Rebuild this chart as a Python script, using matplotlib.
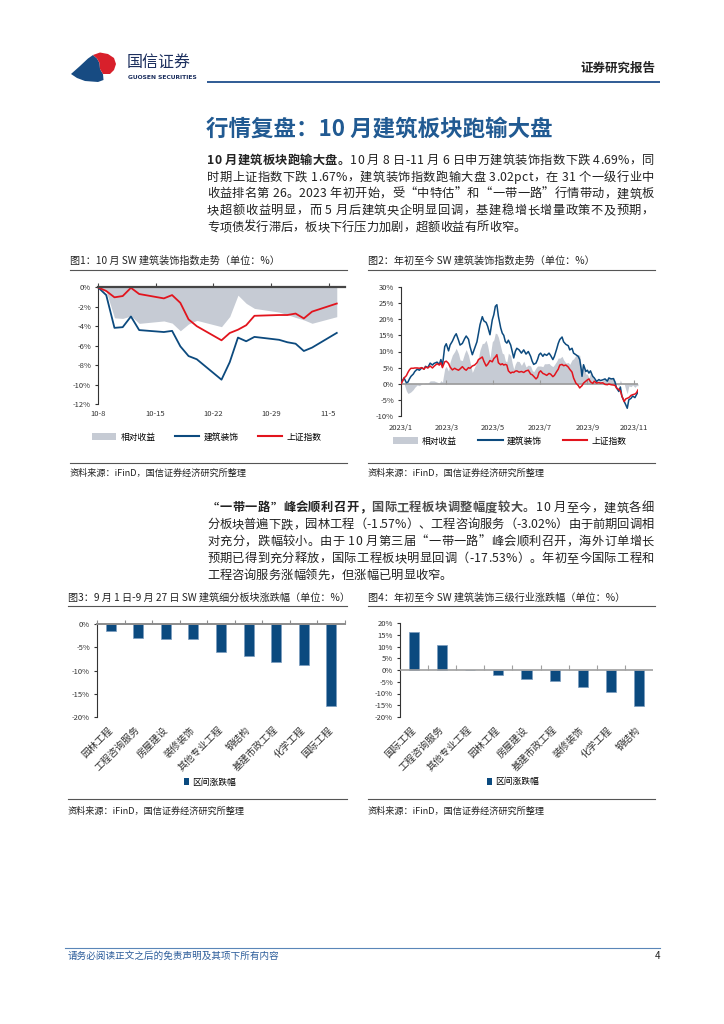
import matplotlib
matplotlib.use('Agg')
import matplotlib.pyplot as plt
import numpy as np
from matplotlib.patches import Polygon, Patch
from matplotlib.lines import Line2D
from matplotlib.font_manager import FontProperties

FAM = ['Noto Sans CJK SC', 'DejaVu Sans']
plt.rcParams['font.family'] = FAM
plt.rcParams['axes.unicode_minus'] = False

# ---------------- data ----------------
# Chart 1: days since 10-8
d1 = [0, 1, 2, 3, 4, 5, 8, 9, 10, 11, 12, 15, 16, 17, 18, 19, 22, 23, 24, 25, 26, 29]
sw1 = [0, -0.80, -4.17, -4.10, -3.00, -4.40, -4.60, -4.48, -6.07, -7.07, -7.40,
       -9.50, -7.70, -5.17, -5.55, -5.10, -5.40, -5.65, -5.80, -6.55, -6.20, -4.69]
sh1 = [0, -0.38, -1.03, -0.90, -0.05, -0.69, -1.14, -0.80, -1.60, -3.30, -4.00,
       -5.45, -4.70, -4.36, -3.90, -2.93, -2.85, -2.85, -2.70, -3.20, -2.50, -1.67]
rel1 = [0, -0.42, -3.14, -3.20, -2.95, -3.71, -3.46, -3.68, -4.47, -3.77, -3.40,
        -4.05, -3.00, -0.81, -1.65, -2.17, -2.55, -2.80, -3.10, -3.35, -3.70, -3.02]
t1_pos = [0, 7, 14, 21, 28]
t1_lab = ['10-8', '10-15', '10-22', '10-29', '11-5']

# Chart 2: days since 2023-01-01
d2 = [0, 2, 4, 7, 9, 11, 13, 16, 18, 21,
      24, 27, 30, 32, 35, 38, 41, 43, 47, 50,
      52, 54, 57, 59, 62, 64, 67, 70, 72, 75,
      77, 80, 83, 85, 88, 90, 93, 96, 99, 101,
      103, 106, 108, 111, 113, 116, 119, 121, 123, 125,
      127, 130, 132, 134, 136, 138, 140, 143, 145, 147,
      149, 151, 154, 157, 160, 163, 166, 169, 171, 173,
      176, 178, 180, 182, 185, 187, 190, 193, 195, 198,
      200, 203, 205, 207, 210, 212, 215, 218, 220, 223,
      225, 228, 231, 233, 235, 236, 238, 241, 243, 245,
      247, 250, 252, 255, 258, 260, 263, 266, 269, 271,
      274, 277, 279, 281, 284, 286, 288, 291, 293, 295,
      297, 300, 302, 305, 307, 309]
sw2 = [0.0, 1.0, 1.8, 0.3, 0.5, 1.5, 2.3, 3.0, 3.8, 4.5,
       4.2, 4.9, 4.6, 5.4, 5.0, 6.4, 5.8, 6.3, 6.7, 6.0,
       7.5, 5.5, 11.5, 12.4, 10.2, 12.0, 13.2, 14.8, 15.5, 13.5,
       12.0, 12.5, 14.0, 14.8, 13.8, 11.5, 9.0, 11.0, 13.0, 15.6,
       18.3, 20.8, 19.5, 19.0, 17.8, 15.2, 19.8, 21.4, 24.0, 24.5,
       20.9, 17.3, 15.7, 15.0, 13.1, 12.6, 13.5, 12.0, 10.0, 8.0,
       10.0, 11.0, 10.5, 9.5, 10.5, 9.2, 10.0, 8.5, 7.0, 6.0,
       6.4, 7.5, 9.0, 9.5, 8.5, 9.2, 8.8, 9.5, 8.8, 7.5,
       8.5, 10.8, 12.5, 13.7, 14.5, 13.0, 12.2, 11.8, 10.5, 11.0,
       9.5, 9.0, 8.5, 7.5, 4.4, 2.3, 5.9, 3.8, 4.2, 3.3,
       4.0, 2.3, 1.8, 0.7, 1.3, 1.0, 1.2, 1.5, 0.8, 1.8,
       1.5, 1.6, 0.5, -1.3, -2.4, -1.0, -3.9, -5.5, -6.5, -7.6,
       -5.0, -4.5, -3.8, -4.3, -3.4, -2.5]
sh2 = [0.0, 0.8, 1.8, 2.5, 3.5, 4.3, 4.8, 4.8, 4.9, 4.9,
       4.8, 5.0, 4.5, 5.2, 4.9, 5.5, 4.9, 5.4, 6.2, 5.8,
       6.5, 5.0, 6.8, 7.0, 6.3, 5.2, 4.3, 4.8, 4.5, 4.2,
       4.6, 5.3, 4.5, 4.2, 5.0, 4.8, 5.5, 5.8, 6.5, 7.5,
       7.8, 8.3, 7.0, 5.5, 6.0, 7.2, 6.8, 7.8, 8.3, 9.0,
       6.5, 5.9, 6.2, 5.8, 6.0, 5.8, 4.0, 3.3, 3.6, 3.5,
       3.9, 4.0, 3.6, 3.8, 3.5, 4.0, 4.2, 3.0, 2.8, 2.3,
       1.5, 2.0, 3.5, 4.0, 3.2, 3.0, 2.6, 3.2, 3.0, 2.2,
       2.6, 3.8, 4.5, 5.8, 6.0, 5.6, 5.8, 5.2, 4.5, 3.6,
       1.8, 0.2, -0.5, -1.3, -0.8, -0.6, 0.2, 0.8, 1.2, 1.5,
       0.6, 0.1, 0.8, 0.2, 0.4, 0.2, 0.3, -0.2, -0.3, -0.1,
       -0.3, -0.4, -0.5, -1.3, -1.8, -2.2, -3.8, -5.5, -4.7, -4.5,
       -4.3, -3.6, -3.4, -3.2, -2.8, -1.9]
rel2 = [0.0, 0.2, 0.0, -2.2, -3.0, -2.8, -2.5, -1.8, -1.1, -0.4,
        -0.6, -0.1, 0.1, 0.2, 0.1, 0.9, 0.9, 0.9, 0.5, 0.2,
        1.0, 0.5, 4.7, 5.4, 3.9, 6.8, 8.9, 10.0, 11.0, 9.3,
        7.4, 7.2, 9.5, 10.6, 8.8, 6.7, 3.5, 5.2, 6.5, 8.1,
        10.5, 12.5, 12.5, 13.5, 11.8, 8.0, 13.0, 13.6, 15.7, 15.5,
        14.4, 11.4, 9.5, 9.2, 7.1, 6.8, 9.5, 8.7, 6.4, 4.5,
        6.1, 7.0, 6.9, 5.7, 7.0, 5.2, 5.8, 5.5, 4.2, 3.7,
        4.9, 5.5, 5.5, 5.5, 5.3, 6.2, 6.2, 6.3, 5.8, 5.3,
        5.9, 7.0, 8.0, 7.9, 8.5, 7.4, 6.4, 6.6, 6.0, 7.4,
        7.7, 8.8, 9.0, 8.8, 5.2, 2.9, 5.7, 3.0, 3.0, 1.8,
        3.4, 2.2, 1.0, 0.5, 0.9, 0.8, 0.9, 1.7, 1.1, 1.9,
        1.8, 2.0, 1.0, 0.0, -0.6, 1.2, -0.1, 0.0, -1.8, -3.1,
        -0.7, -0.9, -0.4, -1.1, -0.6, -0.6]
t2_pos = [0, 59, 120, 181, 243, 304]
t2_lab = ['2023/1', '2023/3', '2023/5', '2023/7', '2023/9', '2023/11']

# Chart 3
cat3 = ['园林工程', '工程咨询服务', '房屋建设', '装修装饰', '其他专业工程',
        '钢结构', '基建市政工程', '化学工程', '国际工程']
val3 = [-1.57, -3.02, -3.3, -3.3, -6.1, -6.8, -8.2, -8.8, -17.53]

# Chart 4
cat4 = ['国际工程', '工程咨询服务', '其他专业工程', '园林工程', '房屋建设',
        '基建市政工程', '装修装饰', '化学工程', '钢结构']
val4 = [16.2, 10.8, 0.0, -2.3, -3.7, -4.5, -7.4, -9.5, -15.2]

# ---------------- style ----------------
BLUE = '#0c4a7e'
RED = '#e2141d'
GREY = '#c6cbd4'
BAR = '#0b4a7f'
BAREDGE = '#7b9cbf'
TXT = '#222222'
TICK = '#333333'

W, H = 724, 1024
fig = plt.figure(figsize=(W / 100, H / 100), dpi=100)
bg = fig.add_axes([0, 0, 1, 1], zorder=0)
bg.set_xlim(0, W)
bg.set_ylim(H, 0)
bg.axis('off')


def rect(l, t, r, b):
    return [l / W, 1 - b / H, (r - l) / W, (b - t) / H]


renderer = fig.canvas.get_renderer()


def tw(s, fp):
    w, h, d = renderer.get_text_width_height_descent(s, fp, ismath=False)
    return w


def char_w(c, fp):
    if c == ' ':
        return tw('a a', fp) - tw('aa', fp)
    return tw(c, fp)


BODY = 8.8
fp_reg = FontProperties(family=FAM, size=BODY)
fp_bold = FontProperties(family=FAM, size=BODY, weight='bold')


def draw_line(yc, runs, x0=207, x1=654, justify=True):
    chars = []
    for txt, fp, col in runs:
        for ch in txt:
            chars.append((ch, fp, col))
    widths = [char_w(c, fp) for c, fp, _ in chars]
    total = sum(widths)
    extra = (x1 - x0 - total) / (len(chars) - 1) if justify and len(chars) > 1 else 0
    x = x0
    yb = yc + 4.6
    for (c, fp, col), w in zip(chars, widths):
        if c != ' ':
            bg.text(x, yb, c, fontproperties=fp, color=col, ha='left', va='baseline')
        x += w + extra


# ---------------- header ----------------
blue_poly = [(71.0, 74.0), (80.0, 66.0), (88.0, 58.5), (93.0, 55.0), (97.0, 58.5),
             (99.5, 63.0), (100.0, 69.0), (103.0, 74.0), (103.5, 80.0), (98.0, 82.0),
             (85.0, 81.0), (77.0, 78.0)]
red_poly = [(93.0, 55.0), (100.0, 52.5), (108.0, 54.0), (114.0, 58.0), (116.0, 64.0),
            (114.0, 70.0), (110.0, 74.0), (103.0, 74.0), (100.0, 69.0), (99.5, 63.0),
            (97.0, 58.5)]
bg.add_patch(Polygon(blue_poly, closed=True, facecolor='#174b82', edgecolor='none'))
bg.add_patch(Polygon(red_poly, closed=True, facecolor='#d8202b', edgecolor='none'))
bg.text(127, 63, '国信证券', fontsize=11.5, color='#1c2f5e', ha='left', va='center')
bg.text(127.5, 77.5, 'GUOSEN SECURITIES', fontsize=4.3, color='#1c2f5e', ha='left',
        va='center', fontweight='bold', family=['DejaVu Sans'])
bg.text(655, 68, '证券研究报告', fontsize=9, color=TXT, ha='right', va='center', fontweight='bold')
bg.plot([207, 660], [82, 82], color='#1f4e8c', lw=1.3, solid_capstyle='butt')

# title
bg.text(206, 129, '行情复盘：10 月建筑板块跑输大盘', fontsize=16.2, color='#215a92',
        fontweight='bold', ha='left', va='center')

# paragraph 1
p1 = [
    [('10 月建筑板块跑输大盘。', fp_bold, TXT), ('10 月 8 日-11 月 6 日申万建筑装饰指数下跌 4.69%，同', fp_reg, TXT)],
    [('时期上证指数下跌 1.67%，建筑装饰指数跑输大盘 3.02pct，在 31 个一级行业中', fp_reg, TXT)],
    [('收益排名第 26。2023 年初开始，受“中特估”和“一带一路”行情带动，建筑板', fp_reg, TXT)],
    [('块超额收益明显，而 5 月后建筑央企明显回调，基建稳增长增量政策不及预期，', fp_reg, TXT)],
    [('专项债发行滞后，板块下行压力加剧，超额收益有所收窄。', fp_reg, TXT)],
]
for i, runs in enumerate(p1):
    draw_line(159.2 + i * 16.75, runs, justify=(i < len(p1) - 1))

# paragraph 2
p2 = [
    [('“一带一路”峰会顺利召开，', fp_bold, TXT), ('国际工程板块调整幅度较大', fp_bold, '#4d4d4d'),
     ('。10 月至今，建筑各细', fp_reg, TXT)],
    [('分板块普遍下跌，园林工程（-1.57%）、工程咨询服务（-3.02%）由于前期回调相', fp_reg, TXT)],
    [('对充分，跌幅较小。由于 10 月第三届“一带一路”峰会顺利召开，海外订单增长', fp_reg, TXT)],
    [('预期已得到充分释放，国际工程板块明显回调（-17.53%）。年初至今国际工程和', fp_reg, TXT)],
    [('工程咨询服务涨幅领先，但涨幅已明显收窄。', fp_reg, TXT)],
]
for i, runs in enumerate(p2):
    draw_line(506.7 + i * 16.9, runs, justify=(i < len(p2) - 1))

# chart titles, rules, sources
CT = 7.3
SRC = 6.6
bg.text(70, 261, '图1：10 月 SW 建筑装饰指数走势（单位：%）', fontsize=CT, color=TXT, va='center')
bg.text(368, 261, '图2：年初至今 SW 建筑装饰指数走势（单位：%）', fontsize=CT, color=TXT, va='center')
bg.text(68, 598, '图3：9 月 1 日-9 月 27 日 SW 建筑细分板块涨跌幅（单位：%）', fontsize=CT, color=TXT, va='center')
bg.text(368, 598, '图4：年初至今 SW 建筑装饰三级行业涨跌幅（单位：%）', fontsize=CT, color=TXT, va='center')
for (xa, xb) in [(70, 347), (368, 655)]:
    bg.plot([xa, xb], [270, 270], color='#555555', lw=0.8)
    bg.plot([xa, xb], [463, 463], color='#555555', lw=0.8)
    bg.text(xa, 473, '资料来源：iFinD，国信证券经济研究所整理', fontsize=SRC, color=TXT, va='center')
for (xa, xb) in [(68, 347), (368, 655)]:
    bg.plot([xa, xb], [606, 606], color='#555555', lw=0.8)
    bg.plot([xa, xb], [799, 799], color='#555555', lw=0.8)
    bg.text(xa, 811, '资料来源：iFinD，国信证券经济研究所整理', fontsize=SRC, color=TXT, va='center')

# footer
bg.plot([65, 660], [948, 948], color='#5a86b8', lw=0.8)
bg.text(68, 956, '请务必阅读正文之后的免责声明及其项下所有内容', fontsize=6.9, color='#2b5c9a',
        va='center', style='italic')
bg.text(660, 956, '4', fontsize=7, color=TXT, ha='right', va='center')

TL = 5.5
LEG = 6.3
CATF = 7.0


def pct(vals):
    return [f'{v}%' for v in vals]


# ---------------- chart 1 ----------------
ax1 = fig.add_axes(rect(98, 287.3, 345, 404), zorder=1)
ax1.fill_between(d1, rel1, 0, color=GREY, lw=0, zorder=1)
ax1.plot(d1, sw1, color=BLUE, lw=1.3, zorder=3, clip_on=False)
ax1.plot(d1, sh1, color=RED, lw=1.3, zorder=3, clip_on=False)
ax1.set_xlim(0, 30)
ax1.set_ylim(-12, 0)
yt1 = list(range(-12, 1, 2))
ax1.set_yticks(yt1)
ax1.set_yticklabels(pct(yt1))
ax1.set_xticks(t1_pos)
ax1.set_xticklabels(t1_lab)
for s in ['right', 'bottom']:
    ax1.spines[s].set_visible(False)
ax1.spines['top'].set_color('#454545')
ax1.spines['top'].set_linewidth(1.6)
ax1.spines['top'].set_zorder(4)
ax1.spines['left'].set_color(TICK)
ax1.spines['left'].set_linewidth(0.8)
ax1.tick_params(axis='x', top=True, bottom=False, direction='out', length=3, width=0.8,
                color='#454545', labelsize=TL, labelcolor=TICK, pad=1)
ax1.tick_params(axis='y', direction='out', length=2.5, width=0.8, color=TICK,
                labelsize=TL, labelcolor=TICK, pad=2.5)
h1 = [Patch(facecolor=GREY, edgecolor='none'),
      Line2D([], [], color=BLUE, lw=1.5), Line2D([], [], color=RED, lw=1.5)]
ax1.legend(h1, ['相对收益', '建筑装饰', '上证指数'], loc='center', bbox_to_anchor=(0.44, -0.283),
           ncol=3, frameon=False, fontsize=LEG, handlelength=2.8, handleheight=0.9,
           handletextpad=0.5, columnspacing=2.2, borderpad=0)

# ---------------- chart 2 ----------------
ax2 = fig.add_axes(rect(401, 287, 638, 416), zorder=1)
ax2.fill_between(d2, rel2, 0, color=GREY, lw=0, zorder=1)
ax2.axhline(0, color='#9a9a9a', lw=1.2, zorder=2)
ax2.vlines(t2_pos[1:], 0, 1.3, color='#9a9a9a', lw=0.8, zorder=2)
ax2.plot(d2, sw2, color=BLUE, lw=1.1, zorder=3)
ax2.plot(d2, sh2, color=RED, lw=1.1, zorder=3)
ax2.set_xlim(0, 309)
ax2.set_ylim(-10, 30)
yt2 = list(range(-10, 31, 5))
ax2.set_yticks(yt2)
ax2.set_yticklabels(pct(yt2))
ax2.set_xticks(t2_pos)
ax2.set_xticklabels(t2_lab)
for s in ['right', 'bottom', 'top']:
    ax2.spines[s].set_visible(False)
ax2.spines['left'].set_color(TICK)
ax2.spines['left'].set_linewidth(0.8)
ax2.tick_params(axis='x', length=0, labelsize=TL, labelcolor=TICK, pad=5.5)
ax2.tick_params(axis='y', direction='out', length=2.5, width=0.8, color=TICK,
                labelsize=TL, labelcolor=TICK, pad=2.5)
ax2.legend(h1, ['相对收益', '建筑装饰', '上证指数'], loc='center', bbox_to_anchor=(0.46, -0.194),
           ncol=3, frameon=False, fontsize=LEG, handlelength=2.8, handleheight=0.9,
           handletextpad=0.5, columnspacing=2.4, borderpad=0)

# ---------------- chart 3 ----------------
ax3 = fig.add_axes(rect(97, 624, 345, 717), zorder=1)
x3 = np.arange(len(cat3))
ax3.bar(x3, val3, width=0.36, color=BAR, edgecolor=BAREDGE, lw=0.5, zorder=2)
ax3.set_xlim(-0.5, len(cat3) - 0.5)
ax3.set_ylim(-20, 0)
yt3 = list(range(-20, 1, 5))
ax3.set_yticks(yt3)
ax3.set_yticklabels(pct(yt3))
ax3.set_xticks(x3)
ax3.set_xticklabels(cat3, rotation=45, ha='right', va='center', rotation_mode='anchor', fontsize=CATF)
ax3.set_xticks(np.arange(len(cat3) + 1) - 0.5, minor=True)
ax3.tick_params(axis='x', which='major', length=0, pad=8, labelcolor=TICK)
ax3.tick_params(axis='x', which='minor', top=True, bottom=False, direction='out', length=3.2,
                width=0.8, color='#8c8c8c')
for s in ['right', 'bottom']:
    ax3.spines[s].set_visible(False)
ax3.spines['top'].set_color('#8c8c8c')
ax3.spines['top'].set_linewidth(1.4)
ax3.spines['left'].set_color(TICK)
ax3.spines['left'].set_linewidth(0.8)
ax3.tick_params(axis='y', direction='out', length=2.5, width=0.8, color=TICK,
                labelsize=TL, labelcolor=TICK, pad=2.5)
hb = [Patch(facecolor=BAR, edgecolor='none')]
ax3.legend(hb, ['区间涨跌幅'], loc='center', bbox_to_anchor=(0.456, -0.70), frameon=False,
           fontsize=LEG, handlelength=0.6, handleheight=0.8, handletextpad=0.4, borderpad=0)

# ---------------- chart 4 ----------------
ax4 = fig.add_axes(rect(400, 623, 653, 717), zorder=1)
x4 = np.arange(len(cat4))
ax4.bar(x4, val4, width=0.36, color=BAR, edgecolor=BAREDGE, lw=0.5, zorder=2)
ax4.axhline(0, color='#a0a0a0', lw=1.2, zorder=3)
ax4.vlines(np.arange(1, len(cat4)) - 0.5, 0, 2.2, color='#a0a0a0', lw=0.8, zorder=3)
ax4.set_xlim(-0.5, len(cat4) - 0.5)
ax4.set_ylim(-20, 20)
yt4 = list(range(-20, 21, 5))
ax4.set_yticks(yt4)
ax4.set_yticklabels(pct(yt4))
ax4.set_xticks(x4)
ax4.set_xticklabels(cat4, rotation=45, ha='right', va='center', rotation_mode='anchor', fontsize=CATF)
ax4.tick_params(axis='x', length=0, pad=8, labelcolor=TICK)
for s in ['right', 'bottom', 'top']:
    ax4.spines[s].set_visible(False)
ax4.spines['left'].set_color(TICK)
ax4.spines['left'].set_linewidth(0.8)
ax4.tick_params(axis='y', direction='out', length=2.5, width=0.8, color=TICK,
                labelsize=TL, labelcolor=TICK, pad=2.5)
ax4.legend(hb, ['区间涨跌幅'], loc='center', bbox_to_anchor=(0.447, -0.69), frameon=False,
           fontsize=LEG, handlelength=0.6, handleheight=0.8, handletextpad=0.4, borderpad=0)

fig.savefig('out.png', dpi=100, facecolor='white')
